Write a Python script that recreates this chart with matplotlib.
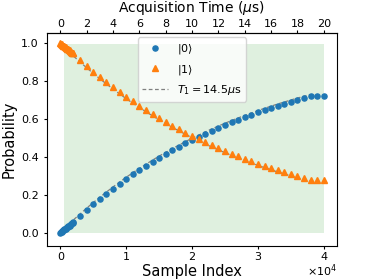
import numpy as np
import matplotlib
matplotlib.use('Agg')
import matplotlib.pyplot as plt
from matplotlib.ticker import FuncFormatter

# sample grid: dense at start, then every 1000 samples
sample_idx = list(range(0, 2001, 100)) + list(range(3000, 40001, 1000))
samples_per_us = 2000

# |1> population
p1 = [1.000, 0.997, 0.995, 0.992, 0.989, 0.987, 0.984, 0.981, 0.979, 0.976,
      0.973, 0.971, 0.968, 0.965, 0.963, 0.960, 0.957, 0.955, 0.952, 0.949,
      0.947,
      0.911, 0.880, 0.851, 0.822, 0.795, 0.768, 0.742, 0.717, 0.693, 0.670,
      0.648, 0.626, 0.605, 0.585, 0.565, 0.547, 0.528, 0.511, 0.494, 0.477,
      0.461, 0.446, 0.431, 0.417, 0.403, 0.390, 0.377, 0.364, 0.352, 0.341,
      0.329, 0.319, 0.308, 0.298, 0.288, 0.277, 0.277, 0.277]

# |0> population
p0 = [0.000, 0.003, 0.005, 0.008, 0.011, 0.013, 0.016, 0.019, 0.021, 0.024,
      0.027, 0.029, 0.032, 0.035, 0.037, 0.040, 0.043, 0.045, 0.048, 0.051,
      0.053,
      0.089, 0.120, 0.149, 0.178, 0.205, 0.232, 0.258, 0.283, 0.307, 0.330,
      0.352, 0.374, 0.395, 0.415, 0.435, 0.453, 0.472, 0.489, 0.506, 0.523,
      0.539, 0.554, 0.569, 0.583, 0.597, 0.610, 0.623, 0.636, 0.648, 0.659,
      0.671, 0.681, 0.692, 0.702, 0.712, 0.723, 0.723, 0.723]

# T1 fit curves
fit_idx = list(range(0, 38001, 1000))
fit1 = [1.000, 0.966, 0.933, 0.902, 0.871, 0.842, 0.813, 0.786, 0.759, 0.733,
        0.708, 0.684, 0.661, 0.639, 0.617, 0.596, 0.576, 0.556, 0.538, 0.519,
        0.502, 0.485, 0.468, 0.452, 0.437, 0.422, 0.408, 0.394, 0.381, 0.368,
        0.355, 0.343, 0.332, 0.320, 0.310, 0.299, 0.289, 0.279, 0.270]
fit0 = [0.000, 0.034, 0.067, 0.098, 0.129, 0.158, 0.187, 0.214, 0.241, 0.267,
        0.292, 0.316, 0.339, 0.361, 0.383, 0.404, 0.424, 0.444, 0.462, 0.481,
        0.498, 0.515, 0.532, 0.548, 0.563, 0.578, 0.592, 0.606, 0.619, 0.632,
        0.645, 0.657, 0.668, 0.680, 0.690, 0.701, 0.711, 0.721, 0.730]

# raw readout band
band_x = [500, 40000]
band_lo = [-0.005, -0.005]
band_hi = [0.995, 0.995]

sample_ticks = [0, 10000, 20000, 30000, 40000]
time_ticks = list(range(0, 21, 2))

fig = plt.figure(figsize=(3.74, 2.8), dpi=100)
ax = fig.add_axes([0.126, 0.121, 0.775, 0.761])

ax.fill_between(band_x, band_lo, band_hi, color='tab:green', alpha=0.15,
                linewidth=0, zorder=1)
ax.plot(sample_idx, p0, 'o', color='tab:blue', markersize=3.7,
        label=r'$|0\rangle$', zorder=3)
ax.plot(sample_idx, p1, '^', color='tab:orange', markersize=3.7,
        label=r'$|1\rangle$', zorder=3)
ax.plot(fit_idx, fit0, '--', color='gray', linewidth=0.9, dashes=(3, 2),
        label=r'$T_1 = 14.5\mu$s', zorder=2)
ax.plot(fit_idx, fit1, '--', color='gray', linewidth=0.9, dashes=(3, 2),
        zorder=2)

ax.set_xlim(-2000, 42000)
ax.set_ylim(-0.072, 1.055)
ax.set_xticks(sample_ticks)
ax.set_yticks([0.0, 0.2, 0.4, 0.6, 0.8, 1.0])
ax.xaxis.set_major_formatter(FuncFormatter(lambda v, pos: f'{v / 1e4:g}'))
ax.text(1.0, -0.075, r'$\times10^{4}$', transform=ax.transAxes,
        ha='right', va='top', fontsize=8)
ax.tick_params(labelsize=8, length=2.5)
ax.tick_params(axis='x', pad=2)
ax.set_xlabel('Sample Index', fontsize=10.5, labelpad=1.5)
ax.set_ylabel('Probability', fontsize=10.5, labelpad=3)

top = ax.secondary_xaxis('top', functions=(lambda x: x / samples_per_us,
                                           lambda t: t * samples_per_us))
top.set_xticks(time_ticks)
top.tick_params(labelsize=8, length=2.5, pad=0.5)
fig.text(0.513, 0.97, r'Acquisition Time ($\mu$s)', fontsize=10,
         ha='center', va='center')

ax.legend(loc='upper center', fontsize=8, handlelength=2.3,
          borderaxespad=0.4, labelspacing=0.6)

fig.savefig('out.png', dpi=100)
